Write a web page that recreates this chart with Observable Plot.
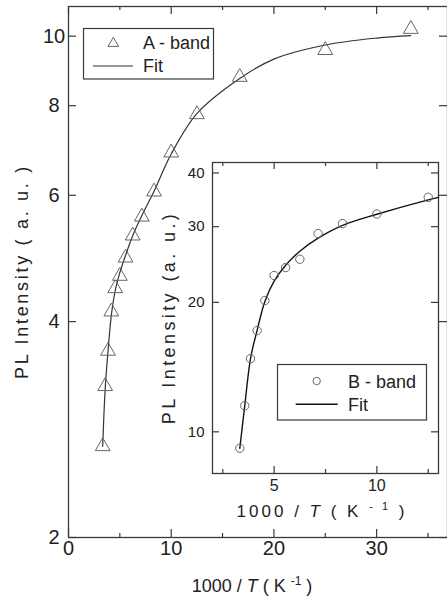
<!DOCTYPE html>
<html><head><meta charset="utf-8">
<script src="https://cdn.jsdelivr.net/npm/d3@7"></script>
<script src="https://cdn.jsdelivr.net/npm/@observablehq/plot@0.6"></script>
<style>
body{margin:0;background:#fff;}
#wrap{position:relative;width:447px;height:604px;overflow:hidden;background:#fff;}
#wrap svg{position:absolute;left:0;top:0;}
</style></head><body><div id="wrap"></div>
<script>
// ---- Main panel: A-band ----
const aX = [3.33, 3.57, 3.85, 4.17, 4.55, 5.00, 5.56, 6.25, 7.14, 8.33, 10.0, 12.5, 16.67, 25.0, 33.33];
const aY = [2.68, 3.25, 3.64, 4.13, 4.45, 4.63, 4.91, 5.27, 5.60, 6.07, 6.88, 7.78, 8.77, 9.56, 10.23];
const aFitX = [3.33, 3.57, 3.85, 4.17, 4.55, 5.0, 5.56, 6.25, 7.14, 8.33, 10, 12.5, 16.67, 20, 25, 30, 33.33];
const aFitY = [2.68, 3.22, 3.64, 4.08, 4.42, 4.68, 4.95, 5.27, 5.62, 6.08, 6.85, 7.80, 8.73, 9.29, 9.72, 9.94, 10.02];
const mainXMajor = [0, 10, 20, 30];
const mainXMinor = [5, 15, 25, 35];
const mainYTicks = [2, 4, 6, 8, 10];

// ---- Inset panel: B-band ----
const bX = [3.33, 3.57, 3.85, 4.17, 4.55, 5.0, 5.56, 6.25, 7.14, 8.33, 10.0, 12.5];
const bY = [9.16, 11.5, 14.8, 17.2, 20.2, 23.1, 24.1, 25.2, 28.9, 30.5, 32.1, 35.1];
const bFitX = [3.33, 3.57, 3.85, 4.17, 4.55, 5.0, 5.56, 6.25, 7.14, 8.33, 10, 12.5, 13];
const bFitY = [9.16, 11.5, 14.8, 17.2, 20.1, 22.4, 24.4, 26.3, 28.2, 30.2, 32.06, 34.64, 35.1];
const insXMajor = [5, 10];
const insXMinor = [2.5, 7.5, 12.5];
const insYTicks = [10, 20, 30, 40];

const FONT = "'Liberation Sans', Arial, Helvetica, sans-serif";
const W = 447, H = 604;
const FR = "#3a3a3a";

function ticks(xMaj, xMin, yMaj, innerW, innerH, maj, min) {
  const o = {stroke: FR, strokeWidth: 1.2};
  return [
    Plot.ruleX(xMaj, {x: d => d, insetTop: innerH - maj, ...o}),
    Plot.ruleX(xMaj, {x: d => d, insetBottom: innerH - maj, ...o}),
    Plot.ruleX(xMin, {x: d => d, insetTop: innerH - min, ...o}),
    Plot.ruleX(xMin, {x: d => d, insetBottom: innerH - min, ...o}),
    Plot.ruleY(yMaj, {y: d => d, insetRight: innerW - maj, ...o}),
    Plot.ruleY(yMaj, {y: d => d, insetLeft: innerW - maj, ...o})
  ];
}

const mL = 68, mR = 0, mT = 6, mB = 67;
const aPts = aX.map((x, i) => ({x, y: aY[i]}));
const aFit = aFitX.map((x, i) => ({x, y: aFitY[i]}));
const main = Plot.plot({
  width: W, height: H,
  marginLeft: mL, marginRight: mR, marginTop: mT, marginBottom: mB,
  style: {fontFamily: FONT, background: "transparent", color: "#222"},
  x: {domain: [0, 36.9], axis: null},
  y: {type: "log", domain: [2, 11], axis: null},
  marks: [
    ...ticks(mainXMajor, mainXMinor, mainYTicks, W - mL - mR, H - mT - mB, 8, 4),
    Plot.frame({stroke: FR, strokeWidth: 1.3}),
    Plot.line(aFit, {x: "x", y: "y", curve: "catmull-rom", stroke: "#333", strokeWidth: 1.2}),
    Plot.dot(aPts, {x: "x", y: "y", symbol: "triangle", r: 5.5, stroke: "#666", fill: "none", strokeWidth: 1}),
    Plot.text(mainXMajor, {x: d => d, text: d => String(d), frameAnchor: "bottom", dy: 17, fontSize: 20, fill: "#222"}),
    Plot.text(mainYTicks, {y: d => d, text: d => String(d), frameAnchor: "left", dx: -14.5, textAnchor: "middle", fontSize: 20, fill: "#222"})
  ]
});

const iL = 212, iR = 9, iT = 162, iB = 131;
const bPts = bX.map((x, i) => ({x, y: bY[i]}));
const bFit = bFitX.map((x, i) => ({x, y: bFitY[i]}));
const inset = Plot.plot({
  width: W, height: H,
  marginLeft: iL, marginRight: iR, marginTop: iT, marginBottom: iB,
  style: {fontFamily: FONT, background: "transparent", color: "#222"},
  x: {domain: [2, 13], axis: null},
  y: {type: "log", domain: [8, 42.3], axis: null},
  marks: [
    Plot.frame({fill: "white"}),
    ...ticks(insXMajor, insXMinor, insYTicks, W - iL - iR, H - iT - iB, 7, 4),
    Plot.frame({stroke: FR, strokeWidth: 1.3}),
    Plot.line(bFit, {x: "x", y: "y", curve: "catmull-rom", stroke: "#111", strokeWidth: 1.4}),
    Plot.dot(bPts, {x: "x", y: "y", symbol: "circle", r: 4.2, stroke: "#666", fill: "none", strokeWidth: 1}),
    Plot.text(insXMajor, {x: d => d, text: d => String(d), frameAnchor: "bottom", dy: 17.5, fontSize: 16, fill: "#222"}),
    Plot.text(insYTicks, {y: d => d, text: d => String(d), frameAnchor: "left", dx: -8, textAnchor: "end", fontSize: 15, fill: "#222"})
  ]
});

const wrap = document.getElementById("wrap");
wrap.appendChild(main);
wrap.appendChild(inset);

// legends and axis titles
const ov = `
<svg width="${W}" height="${H}" xmlns="http://www.w3.org/2000/svg" style="font-family:${FONT};fill:#222">
  <rect x="83.5" y="28.5" width="130" height="50.5" fill="white" stroke="${FR}" stroke-width="1.2"/>
  <path d="M113.3,37.3 L118.6,46.4 L108,46.4 Z" fill="none" stroke="#666" stroke-width="1"/>
  <text x="143" y="49.3" font-size="18">A - band</text>
  <line x1="93" x2="133" y1="66" y2="66" stroke="#333" stroke-width="1.2"/>
  <text x="143" y="72" font-size="18">Fit</text>

  <rect x="277.5" y="364.5" width="149" height="55.5" fill="white" stroke="${FR}" stroke-width="1.2"/>
  <circle cx="316.7" cy="381" r="3.7" fill="none" stroke="#666" stroke-width="1"/>
  <text x="348" y="388.3" font-size="18">B - band</text>
  <line x1="295.7" x2="337.7" y1="404.3" y2="404.3" stroke="#111" stroke-width="1.5"/>
  <text x="348" y="410.7" font-size="18">Fit</text>

  <text transform="translate(28.3,271.5) rotate(-90)" text-anchor="middle" font-size="18" letter-spacing="2.7">PL Intensity ( a. u. )</text>
  <text x="252" y="592" text-anchor="middle" font-size="18">1000 / <tspan font-style="italic">T</tspan> ( K <tspan font-size="12" dy="-7">-1</tspan><tspan dy="7"> )</tspan></text>

  <text transform="translate(175,317.5) rotate(-90)" text-anchor="middle" font-size="18" letter-spacing="3.4">PL Intensity (a. u.)</text>
  <text x="322" y="517" text-anchor="middle" font-size="17" letter-spacing="3">1000 / <tspan font-style="italic">T</tspan> ( K <tspan font-size="11" dy="-7">- 1</tspan><tspan dy="7"> )</tspan></text>
</svg>`;
wrap.insertAdjacentHTML("beforeend", ov);
</script>
</body></html>
